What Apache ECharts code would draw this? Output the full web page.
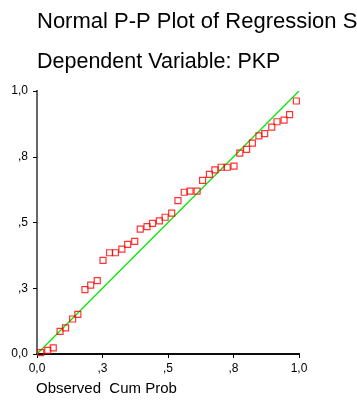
<!DOCTYPE html>
<html>
<head>
<meta charset="utf-8">
<script src="https://cdn.jsdelivr.net/npm/echarts@6/dist/echarts.min.js"></script>
<style>
  html, body { margin: 0; padding: 0; background: #fff; }
  #chart { width: 357px; height: 416px; }
</style>
</head>
<body>
<div id="chart"></div>
<script>
// observed vs expected cumulative probability
const observedCum = [0.014, 0.041, 0.062, 0.088, 0.109, 0.136, 0.156, 0.183, 0.205, 0.230,
  0.252, 0.277, 0.299, 0.324, 0.346, 0.373, 0.394, 0.420, 0.441, 0.467,
  0.489, 0.514, 0.538, 0.562, 0.584, 0.611, 0.632, 0.658, 0.679, 0.703,
  0.726, 0.752, 0.774, 0.800, 0.822, 0.847, 0.869, 0.896, 0.916, 0.943,
  0.964, 0.990]
const expectedCum = [0.005, 0.014, 0.023, 0.086, 0.099, 0.133, 0.151, 0.245, 0.262, 0.279,
  0.356, 0.385, 0.385, 0.399, 0.417, 0.428, 0.475, 0.484, 0.497, 0.506,
  0.520, 0.536, 0.583, 0.615, 0.619, 0.619, 0.660, 0.683, 0.700, 0.710,
  0.710, 0.714, 0.764, 0.778, 0.802, 0.829, 0.838, 0.863, 0.883, 0.889,
  0.910, 0.962]
const refLine = [[0, 0], [1, 1]]
const tickLabels = ['0,0', ',3', ',5', ',8', '1,0']

const font = 'Arial, "Liberation Sans", sans-serif'
const fmt = (v) => tickLabels[Math.round(v / 0.25)]

const points = observedCum.map((x, i) => [x, expectedCum[i]])

const chart = echarts.init(document.getElementById('chart'), null, { renderer: 'canvas' })

const option = {
  animation: false,
  backgroundColor: '#fff',
  title: [
    {
      // the page cuts the long title off after "S"
      text: 'Normal P-P Plot of Regression Standardized Residual',
      left: 37,
      top: 11,
      padding: 0,
      textStyle: {
        fontFamily: font, fontSize: 22, fontWeight: 'normal', color: '#000',
        width: 323, overflow: 'truncate', ellipsis: '',
      },
    },
    {
      text: 'Dependent Variable: PKP',
      left: 37,
      top: 51,
      padding: 0,
      textStyle: { fontFamily: font, fontSize: 21.5, fontWeight: 'normal', color: '#000' },
    },
    {
      text: 'Observed  Cum Prob',
      left: 36,
      top: 381,
      padding: 0,
      textStyle: { fontFamily: font, fontSize: 15, fontWeight: 'normal', color: '#000' },
    },
  ],
  grid: { left: 37, top: 91, width: 262, height: 263 },
  xAxis: [
    {
      type: 'value',
      min: 0,
      max: 1,
      interval: 0.25,
      axisLine: { lineStyle: { color: '#000', width: 2 } },
      axisTick: { show: true, length: 4, lineStyle: { color: '#000' } },
      axisLabel: { formatter: fmt, margin: 9, fontFamily: font, fontSize: 12, color: '#000' },
      splitLine: { show: false },
    },
    {
      type: 'value',
      position: 'top',
      min: 0,
      max: 1,
      axisLine: { show: true, lineStyle: { color: '#111', width: 1.5 } },
      axisTick: { show: false },
      axisLabel: { show: false },
      splitLine: { show: false },
    },
  ],
  yAxis: [
    {
      type: 'value',
      min: 0,
      max: 1,
      interval: 0.25,
      axisLine: { show: true, lineStyle: { color: '#000', width: 2 } },
      axisTick: { show: true, length: 4, lineStyle: { color: '#000' } },
      axisLabel: { formatter: fmt, margin: 9, fontFamily: font, fontSize: 12, color: '#000' },
      splitLine: { show: false },
    },
    {
      type: 'value',
      position: 'right',
      min: 0,
      max: 1,
      axisLine: { show: true, lineStyle: { color: '#666', width: 2 } },
      axisTick: { show: false },
      axisLabel: { show: false },
      splitLine: { show: false },
    },
  ],
  series: [
    {
      type: 'line',
      data: refLine,
      symbol: 'none',
      lineStyle: { color: '#00e600', width: 1.2 },
      silent: true,
      z: 2,
    },
    {
      type: 'scatter',
      data: points,
      symbol: 'rect',
      symbolSize: 6,
      itemStyle: { color: 'rgba(0,0,0,0)', borderColor: '#ff0000', borderWidth: 1.2 },
      z: 3,
    },
  ],
}

chart.setOption(option)
</script>
</body>
</html>
